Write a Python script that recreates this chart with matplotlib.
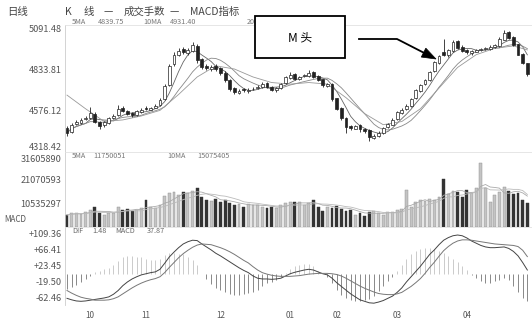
import matplotlib
matplotlib.use("Agg")
import matplotlib.pyplot as plt
import numpy as np
import pandas as pd
from matplotlib.patches import Rectangle, Polygon
from matplotlib.lines import Line2D

plt.rcParams['font.family'] = ['Noto Sans CJK SC', 'DejaVu Sans']

# ---------------- data ----------------
opens = [4470, 4445, 4495, 4500, 4525, 4530, 4560, 4505, 4485, 4500,
         4535, 4550, 4595, 4578, 4565, 4550, 4570, 4595, 4585, 4598,
         4615, 4650, 4740, 4870, 4930, 4965, 4940, 4955, 4985, 4900,
         4860, 4840, 4858, 4845, 4818, 4772, 4720, 4690, 4712, 4700,
         4712, 4718, 4728, 4750, 4730, 4705, 4722, 4750, 4785, 4810,
         4775, 4795, 4798, 4820, 4795, 4775, 4735, 4745, 4655, 4595,
         4535, 4480, 4465, 4485, 4465, 4455, 4405, 4418, 4438, 4475,
         4490, 4525, 4565, 4590, 4605, 4655, 4700, 4745, 4770, 4825,
         4880, 4945, 4925, 4955, 5015, 4980, 4960, 4940, 4950, 4958,
         4965, 4968, 4978, 4985, 5025, 5070, 5040, 4995, 4935, 4875]
highs = [4480, 4500, 4520, 4530, 4545, 4600, 4570, 4512, 4515, 4540,
         4560, 4615, 4605, 4585, 4572, 4585, 4595, 4605, 4600, 4620,
         4655, 4745, 4870, 4945, 4975, 4980, 4975, 5010, 4995, 4910,
         4870, 4865, 4870, 4852, 4825, 4780, 4725, 4712, 4720, 4718,
         4725, 4740, 4760, 4758, 4735, 4730, 4755, 4798, 4820, 4815,
         4798, 4808, 4835, 4828, 4800, 4780, 4755, 4750, 4660, 4600,
         4540, 4490, 4490, 4492, 4470, 4460, 4430, 4450, 4478, 4500,
         4530, 4578, 4595, 4620, 4660, 4712, 4748, 4780, 4830, 4892,
         4930, 5030, 4968, 5020, 5025, 4990, 4968, 4962, 4968, 4972,
         4978, 4988, 4998, 5040, 5085, 5078, 5045, 5000, 4940, 4880]
lows = [4420, 4438, 4485, 4495, 4518, 4525, 4500, 4465, 4478, 4495,
        4528, 4545, 4568, 4550, 4540, 4545, 4565, 4582, 4580, 4592,
        4610, 4645, 4735, 4860, 4920, 4935, 4930, 4948, 4880, 4840,
        4835, 4830, 4830, 4805, 4760, 4700, 4680, 4682, 4695, 4692,
        4705, 4712, 4722, 4718, 4700, 4698, 4715, 4745, 4778, 4772,
        4770, 4788, 4792, 4782, 4762, 4730, 4728, 4640, 4580, 4520,
        4440, 4455, 4460, 4445, 4440, 4385, 4398, 4410, 4432, 4470,
        4485, 4520, 4560, 4585, 4600, 4650, 4695, 4740, 4765, 4820,
        4870, 4920, 4915, 4950, 4965, 4945, 4935, 4930, 4945, 4952,
        4960, 4962, 4975, 4980, 5020, 5030, 4985, 4925, 4872, 4795]
closes = [4440, 4490, 4505, 4520, 4535, 4565, 4510, 4480, 4505, 4530,
          4545, 4590, 4575, 4560, 4550, 4575, 4585, 4590, 4595, 4610,
          4645, 4735, 4860, 4925, 4955, 4945, 4960, 4990, 4895, 4850,
          4848, 4852, 4840, 4815, 4770, 4715, 4695, 4700, 4705, 4710,
          4715, 4730, 4745, 4725, 4710, 4720, 4745, 4790, 4805, 4780,
          4790, 4800, 4815, 4790, 4770, 4740, 4745, 4650, 4590, 4530,
          4475, 4470, 4480, 4460, 4450, 4410, 4420, 4440, 4470, 4495,
          4520, 4570, 4585, 4610, 4650, 4705, 4740, 4770, 4820, 4885,
          4920, 4930, 4960, 5010, 4975, 4955, 4945, 4955, 4960, 4965,
          4970, 4980, 4990, 5030, 5065, 5035, 4990, 4930, 4880, 4810]
# slow moving average, read at sparse candles
ma_slow_idx = [0, 4, 8, 12, 16, 20, 24, 28, 32, 36, 40, 44, 48, 52,
               56, 60, 64, 68, 72, 76, 80, 84, 88, 92, 96, 99]
ma_slow_val = [4676, 4590, 4510, 4520, 4545, 4580, 4680, 4790, 4860, 4840,
               4790, 4755, 4745, 4755, 4745, 4660, 4560, 4490, 4510, 4590,
               4720, 4850, 4930, 4970, 4985, 4960]
# volume in millions of lots
volumes = [5.3, 6.0, 6.2, 5.8, 6.5, 7.5, 8.8, 6.0, 5.5, 6.3,
           6.0, 8.8, 7.5, 8.0, 7.0, 7.6, 8.2, 12.0, 9.0, 8.5,
           9.5, 13.5, 15.0, 15.2, 14.0, 15.5, 15.0, 16.0, 17.2, 13.0,
           12.0, 11.5, 12.5, 11.0, 12.0, 10.5, 9.5, 10.0, 9.0, 10.2,
           9.8, 9.5, 9.0, 8.5, 8.8, 8.2, 9.5, 10.5, 11.2, 11.0,
           10.8, 9.5, 10.5, 12.0, 9.0, 7.0, 9.0, 8.5, 9.2, 8.0,
           7.0, 7.5, 5.5, 6.0, 5.0, 6.5, 7.0, 6.0, 5.5, 6.5,
           6.8, 7.5, 8.0, 16.5, 9.0, 11.0, 12.0, 11.5, 12.5, 11.8,
           13.0, 21.0, 14.5, 16.0, 15.5, 13.0, 16.5, 15.0, 17.0, 28.0,
           17.0, 11.0, 14.0, 15.5, 17.5, 16.0, 14.5, 15.0, 12.0, 10.5]
dif = [-66, -70, -73, -74, -73, -71, -69, -67, -65, -62,
       -55, -45, -32, -22, -14, -8, -3, 0, 3, 5,
       12, 28, 45, 58, 70, 80, 86, 90, 89, 80,
       72, 64, 55, 48, 40, 32, 24, 16, 9, 3,
       -6, -12, -14, -14, -15, -14, -12, -6, 0, 4,
       7, 10, 12, 10, 5, 0, -3, -12, -24, -34,
       -44, -54, -62, -70, -74, -78, -79, -76, -72, -66,
       -60, -50, -38, -22, -8, 6, 20, 36, 52, 64,
       78, 90, 97, 102, 104, 102, 96, 88, 82, 76,
       72, 70, 70, 71, 72, 68, 60, 48, 30, 10]
dea = [-45, -52, -58, -63, -66, -68, -71, -71, -71, -70,
       -67, -62, -54, -46, -38, -31, -25, -20, -16, -13,
       -8, 3, 17, 30, 43, 54, 63, 71, 77, 80,
       79, 78, 74, 70, 65, 59, 52, 44, 36, 29,
       19, 10, 3, -1, -4, -6, -7, -7, -7, -6,
       -5, -3, -1, 0, 1, 1, 1, 0, -2, -6,
       -12, -19, -26, -33, -39, -44, -49, -53, -55, -56,
       -56, -54, -50, -42, -34, -24, -13, 1, 17, 31,
       47, 62, 73, 82, 88, 91, 91, 90, 88, 86,
       84, 82, 80, 79, 78, 77, 76, 73, 63, 46]
month_pos = [5, 17, 33, 48, 58, 71, 86]
month_labels = ["10", "11", "12", "01", "02", "03", "04"]
price_ticks = [4318.42, 4576.12, 4833.81, 5091.48]
vol_ticks = [10535297, 21070593, 31605890]
macd_ticks = [-62.46, -19.50, 23.45, 66.41, 109.36]
macd_tick_labels = ["-62.46", "-19.50", "+23.45", "+66.41", "+109.36"]
price_head = ["5MA", "4839.75", "10MA", "4931.40", "20MA", "4905.16"]
vol_head = ["5MA", "11750051", "10MA", "15075405"]
macd_head = ["DIF", "1.48", "MACD", "37.87"]

# ---------------- figure ----------------
W, H = 532, 320
fig = plt.figure(figsize=(W / 100, H / 100), dpi=100)
fig.patch.set_facecolor("white")


def rect(x0, y0, x1, y1):
    return [x0 / W, 1 - y1 / H, (x1 - x0) / W, (y1 - y0) / H]


TXT = "#555555"
ax_p = fig.add_axes(rect(65, 25, 532, 152))
ax_v = fig.add_axes(rect(65, 152, 532, 227), sharex=ax_p)
ax_m = fig.add_axes(rect(65, 227, 532, 305), sharex=ax_p)

n = len(closes)
idx = np.arange(n)
o = np.array(opens, float)
c = np.array(closes, float)
hi = np.array(highs, float)
lo = np.array(lows, float)
up = c >= o

# moving averages
cs = pd.Series(c)
ma5 = cs.rolling(5, min_periods=1).mean()
ma10 = cs.rolling(10, min_periods=1).mean()
ax_p.plot(idx, ma5, color="#666666", lw=0.6, zorder=3)
ax_p.plot(idx, ma10, color="#888888", lw=0.6, zorder=3)
ax_p.plot(ma_slow_idx, ma_slow_val, color="#999999", lw=0.6, zorder=3)

# candles
bw = 0.62
ax_p.vlines(idx, lo, hi, color="#222222", lw=0.6, zorder=4)
for i in range(n):
    b0 = min(o[i], c[i])
    bh = max(abs(c[i] - o[i]), 3)
    ax_p.add_patch(Rectangle((i - bw / 2, b0), bw, bh,
                             facecolor="white" if up[i] else "#222222",
                             edgecolor="#222222", lw=0.5, zorder=5))

ax_p.set_xlim(-0.43, 100.0)
ax_p.set_ylim(4318.42, 5116.6)
ax_p.set_yticks(price_ticks)
ax_p.set_yticklabels([f"{t:.2f}" for t in price_ticks])

# volume
v = np.array(volumes) * 1e6
vcol = np.where(up, "#c4c4c4", "#333333")
ax_v.bar(idx, v, width=0.62, color=vcol, edgecolor=np.where(up, "#8a8a8a", "#333333"),
         lw=0.3, zorder=3)
vs = pd.Series(v)
ax_v.plot(idx, vs.rolling(5, min_periods=1).mean(), color="#aaaaaa", lw=0.6, zorder=4)
ax_v.plot(idx, vs.rolling(10, min_periods=1).mean(), color="#bbbbbb", lw=0.6, zorder=4)
ax_v.set_ylim(0, 33.0e6)
ax_v.set_yticks(vol_ticks)
ax_v.set_yticklabels([str(t) for t in vol_ticks])

# MACD
d = np.array(dif, float)
e = np.array(dea, float)
hist = 2 * (d - e)
ax_m.vlines(idx, 0, hist, colors=np.where(hist >= 0, "#bdbdbd", "#6a6a6a"), lw=0.55, zorder=2)
ax_m.plot(idx, d, color="#444444", lw=0.7, zorder=3)
ax_m.plot(idx, e, color="#777777", lw=0.7, zorder=3)
ax_m.set_ylim(-83.9, 125.5)
ax_m.set_yticks(macd_ticks)
ax_m.set_yticklabels(macd_tick_labels)
ax_m.set_xticks(month_pos)
ax_m.set_xticklabels(month_labels)

for ax in (ax_p, ax_v, ax_m):
    ax.set_facecolor("none")
    ax.tick_params(axis="y", length=0, labelsize=6.6, labelcolor=TXT, pad=2.5)
    for s in ("right", "bottom"):
        ax.spines[s].set_visible(False)
    ax.spines["left"].set_color("#cccccc")
    ax.spines["left"].set_linewidth(0.6)
    ax.spines["top"].set_color("#e2e2e2")
    ax.spines["top"].set_linewidth(0.6)
for ax in (ax_p, ax_v):
    ax.tick_params(axis="x", bottom=False, labelbottom=False)
ax_m.tick_params(axis="x", length=0, labelsize=5.8, labelcolor=TXT, pad=4)

# keep the two labels at the price/volume border apart
ax_p.get_yticklabels()[0].set_va("bottom")
ax_v.get_yticklabels()[-1].set_va("top")

# overlay for headers and annotation
ov = fig.add_axes([0, 0, 1, 1], zorder=10)
ov.set_xlim(0, W)
ov.set_ylim(H, 0)
ov.axis("off")

ov.text(7, 12, "日线", fontsize=7.5, color="#444444", va="center", ha="left")
for s, x in zip(["K", "线", "—", "成交手数", "—", "MACD指标"],
                [65, 84, 104, 124, 170, 190]):
    ov.text(x, 12, s, fontsize=7.5, color="#444444", va="center", ha="left")

for s, x in zip(price_head, [72, 98, 143, 170, 247, 272]):
    ov.text(x, 22, s, fontsize=5.2, color="#777777", va="center", ha="left")
for s, x in zip(vol_head, [72, 93, 167, 197]):
    ov.text(x, 156, s, fontsize=5.2, color="#777777", va="center", ha="left")
for s, x in zip(macd_head, [72, 92, 115, 147]):
    ov.text(x, 231, s, fontsize=5.2, color="#666666", va="center", ha="left")
ov.text(4, 219, "MACD", fontsize=5.8, color="#555555", va="center", ha="left")

ov.add_patch(Rectangle((255, 16), 90, 42, facecolor="white", edgecolor="black",
                       lw=1.3, zorder=5))
ov.text(300, 37.5, "M 头", fontsize=8.5, color="black", ha="center", va="center", zorder=6)

# arrow: horizontal then diagonal
tip = np.array([436.0, 59.0])
knee = np.array([397.0, 39.0])
dvec = (tip - knee) / np.linalg.norm(tip - knee)
perp = np.array([-dvec[1], dvec[0]])
base = tip - 14 * dvec
ov.add_line(Line2D([359, knee[0], base[0]], [39, knee[1], base[1]], color="black", lw=1.3))
ov.add_patch(Polygon([tip, base + 5 * perp, base - 5 * perp], closed=True,
                     facecolor="black", edgecolor="black", lw=0.5))

fig.savefig("out.png", dpi=100, facecolor="white")
